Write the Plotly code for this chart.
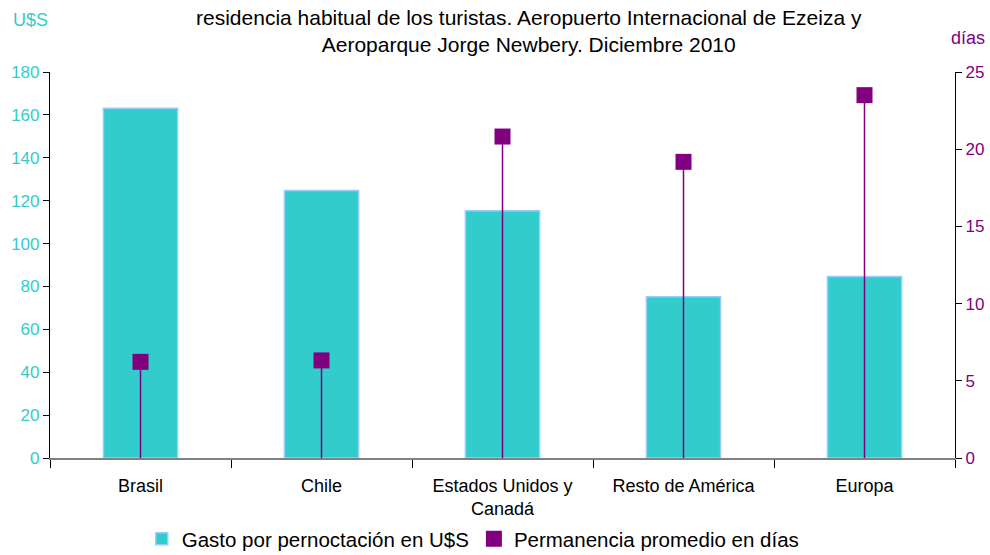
import plotly.graph_objects as go

categorias = ["Brasil", "Chile", "Estados Unidos y<br>Canadá", "Resto de América", "Europa"]
gasto_usd = [163.1, 124.7, 115.3, 75.2, 84.6]
permanencia_dias = [6.23, 6.32, 20.82, 19.18, 23.5]

titulo = ("residencia habitual de los turistas. Aeropuerto Internacional de Ezeiza y<br>"
          "Aeroparque Jorge Newbery. Diciembre 2010")

FONT = "Liberation Sans, Arial, sans-serif"
CYAN = "#33CCCC"
PURPLE = "#800080"

fig = go.Figure()
fig.add_trace(go.Bar(
    x=categorias, y=gasto_usd, name="Gasto por pernoctación en U$S",
    marker=dict(color=CYAN, line=dict(color="#99CCFF", width=1.5)),
    width=0.41, yaxis="y",
))
fig.add_trace(go.Scatter(
    x=categorias, y=permanencia_dias, name="Permanencia promedio en días",
    mode="markers", yaxis="y2",
    marker=dict(symbol="square", size=16, color=PURPLE),
    error_y=dict(type="data", symmetric=False, array=[0] * len(permanencia_dias),
                 arrayminus=permanencia_dias, color=PURPLE, thickness=1.5, width=0),
))

fig.update_layout(
    width=990, height=555,
    margin=dict(l=50, r=35, t=72, b=97, autoexpand=False),
    paper_bgcolor="white", plot_bgcolor="white",
    font=dict(family=FONT, color="black"),
    showlegend=True,
    legend=dict(orientation="h", x=0.478, xanchor="center", xref="container",
                y=-0.158, yanchor="top", yref="paper",
                font=dict(size=20.5, color="black"), itemwidth=30, tracegroupgap=0),
    bargap=0.59,
    xaxis=dict(
        type="category", showgrid=False, showline=True, linecolor="#808080", linewidth=2,
        ticks="outside", tickson="boundaries", ticklen=8, tickcolor="black",
        tickfont=dict(size=18, color="black"), range=[-0.5, 4.5],
        automargin=False, ticklabelstandoff=10,
    ),
    yaxis=dict(
        range=[0, 180], dtick=20, showgrid=False, zeroline=False,
        showline=True, linecolor="black", linewidth=1.2,
        ticks="outside", ticklen=6, tickcolor="black",
        tickfont=dict(size=17, color=CYAN), automargin=False,
    ),
    yaxis2=dict(
        range=[0, 25], dtick=5, overlaying="y", side="right", showgrid=False, zeroline=False,
        showline=True, linecolor="black", linewidth=1.2,
        ticks="outside", ticklen=6, tickcolor="black",
        tickfont=dict(size=17, color=PURPLE), automargin=False,
    ),
    annotations=[
        dict(text=titulo, xref="paper", yref="paper", x=0.529, y=1.106, xanchor="center",
             yanchor="middle", showarrow=False, font=dict(size=21, color="black")),
        dict(text="U$S", xref="paper", yref="paper", x=-0.022, y=1.135, xanchor="center",
             yanchor="middle", showarrow=False, font=dict(size=18, color=CYAN)),
        dict(text="días", xref="paper", yref="paper", x=1.0144, y=1.088, xanchor="center",
             yanchor="middle", showarrow=False, font=dict(size=18, color=PURPLE)),
    ],
)

post = """
document.documentElement.style.margin='0';
document.documentElement.style.overflow='hidden';
document.body.style.margin='0';
document.body.style.overflow='hidden';
var gd = document.getElementById('{plot_id}');
Plotly.relayout(gd, {width: 990, height: 555});
"""

fig.write_html("out.html", post_script=post, config={"displayModeBar": False})
